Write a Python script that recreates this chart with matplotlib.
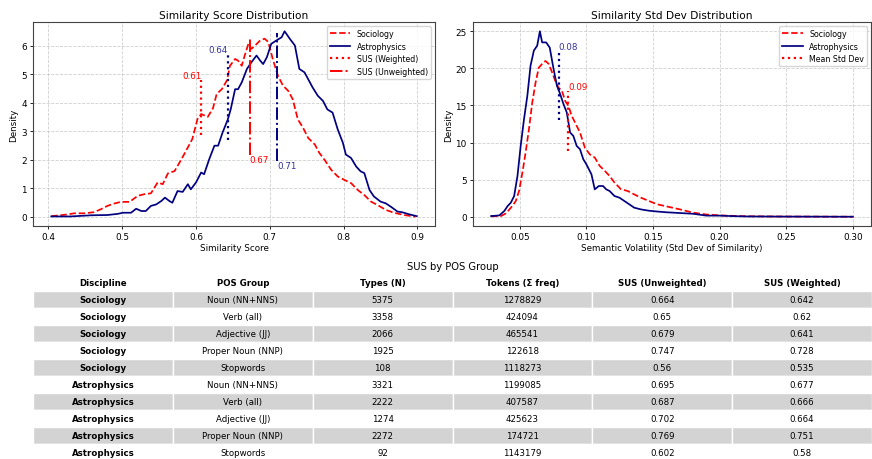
import matplotlib
matplotlib.use("Agg")
import matplotlib.pyplot as plt

# ---------------- data ----------------
soc_sim_x = [0.404, 0.426, 0.435, 0.449, 0.462, 0.471, 0.480, 0.489, 0.498, 0.510, 0.521, 0.530, 0.539,
             0.548, 0.555, 0.562, 0.571, 0.580, 0.589, 0.595, 0.602, 0.607, 0.616, 0.623, 0.628, 0.635,
             0.642, 0.646, 0.653, 0.657, 0.662, 0.666, 0.671, 0.675, 0.680, 0.687, 0.693, 0.698, 0.704,
             0.711, 0.718, 0.725, 0.731, 0.738, 0.745, 0.752, 0.761, 0.767, 0.774, 0.783, 0.792, 0.801,
             0.810, 0.819, 0.828, 0.837, 0.846, 0.857, 0.868, 0.882, 0.897]
soc_sim_y = [0.02, 0.08, 0.12, 0.12, 0.16, 0.26, 0.38, 0.46, 0.52, 0.52, 0.73, 0.79, 0.82,
             1.20, 1.14, 1.52, 1.60, 2.00, 2.43, 2.72, 3.42, 3.60, 3.50, 3.80, 4.30, 4.47,
             4.78, 5.29, 5.53, 5.47, 5.29, 5.65, 6.06, 5.88, 6.00, 6.18, 6.24, 6.12, 5.53,
             4.94, 4.59, 4.41, 4.12, 3.41, 3.12, 2.76, 2.53, 2.24, 2.00, 1.65, 1.41, 1.29,
             1.18, 0.94, 0.76, 0.53, 0.41, 0.24, 0.14, 0.06, 0.00]

ast_sim_x = [0.404, 0.430, 0.458, 0.480, 0.494, 0.501, 0.512, 0.519, 0.526, 0.532, 0.539, 0.546, 0.553,
             0.558, 0.564, 0.568, 0.575, 0.582, 0.589, 0.593, 0.600, 0.607, 0.611, 0.618, 0.625, 0.630,
             0.636, 0.643, 0.647, 0.653, 0.657, 0.662, 0.669, 0.675, 0.682, 0.687, 0.691, 0.696, 0.702,
             0.709, 0.716, 0.720, 0.727, 0.734, 0.740, 0.747, 0.752, 0.758, 0.765, 0.772, 0.778, 0.785,
             0.792, 0.799, 0.803, 0.810, 0.817, 0.823, 0.828, 0.835, 0.841, 0.850, 0.857, 0.864, 0.873,
             0.879, 0.888, 0.899]
ast_sim_y = [0.01, 0.01, 0.05, 0.06, 0.10, 0.14, 0.14, 0.28, 0.20, 0.20, 0.38, 0.43, 0.55,
             0.67, 0.55, 0.49, 0.90, 0.87, 1.14, 0.96, 1.20, 1.55, 1.49, 2.02, 2.49, 2.49,
             2.95, 3.40, 3.76, 4.47, 4.47, 4.71, 5.18, 5.41, 5.65, 5.47, 5.35, 5.59, 6.06,
             6.18, 6.29, 6.50, 6.24, 6.00, 5.18, 5.06, 4.82, 4.53, 4.24, 4.06, 3.76, 3.65,
             3.06, 2.59, 2.18, 2.06, 1.76, 1.59, 1.53, 0.94, 0.71, 0.53, 0.47, 0.35, 0.18,
             0.16, 0.09, 0.02]

soc_std_x = [0.0285, 0.0359, 0.0396, 0.0433, 0.047, 0.0495, 0.052, 0.0544, 0.0569, 0.0594, 0.0619,
             0.0643, 0.0668, 0.0693, 0.0717, 0.0742, 0.0767, 0.0791, 0.0816, 0.0841, 0.0865, 0.089,
             0.0915, 0.0952, 0.0989, 0.1026, 0.1063, 0.110, 0.1137, 0.1174, 0.1211, 0.126, 0.131,
             0.136, 0.1409, 0.147, 0.1532, 0.160, 0.170, 0.180, 0.190, 0.200, 0.210, 0.220, 0.240,
             0.260, 0.280, 0.300]
soc_std_y = [0.05, 0.09, 0.45, 1.2, 2.1, 3.47, 5.95, 8.65, 11.8, 15.4, 18.1,
             20.1, 20.6, 21.0, 20.6, 19.5, 18.3, 17.4, 17.0, 15.6, 14.95, 13.6,
             12.7, 11.35, 9.3, 8.4, 7.97, 6.85, 6.2, 5.5, 4.6, 3.7, 3.47,
             3.0, 2.57, 2.12, 1.67, 1.4, 1.0, 0.55, 0.3, 0.18, 0.12, 0.06, 0.03,
             0.02, 0.01, 0.0]

ast_std_x = [0.0285, 0.0347, 0.0384, 0.0409, 0.0433, 0.0458, 0.0483, 0.0507, 0.0532, 0.0557, 0.0581,
             0.0606, 0.0631, 0.0651, 0.0668, 0.0698, 0.0725, 0.0754, 0.0779, 0.0804, 0.0828, 0.0853,
             0.0878, 0.0902, 0.0927, 0.0952, 0.0977, 0.100, 0.1038, 0.1063, 0.1093, 0.1125, 0.1149,
             0.1174, 0.1211, 0.1248, 0.1285, 0.1322, 0.1359, 0.1409, 0.147, 0.1532, 0.160, 0.170,
             0.180, 0.190, 0.200, 0.210, 0.220, 0.250, 0.300]
ast_std_y = [0.09, 0.18, 0.77, 1.44, 1.89, 2.79, 5.5, 9.55, 13.15, 16.3, 20.36,
             22.4, 23.06, 25.0, 23.5, 23.5, 22.8, 19.9, 17.66, 16.5, 15.2, 14.05,
             11.35, 10.9, 9.55, 9.1, 7.75, 7.07, 5.72, 3.69, 4.14, 4.14, 3.69,
             3.47, 2.79, 2.57, 2.12, 1.67, 1.22, 0.99, 0.81, 0.7, 0.6, 0.5,
             0.4, 0.15, 0.15, 0.08, 0.04, 0.02, 0.0]

# mean markers
soc_sus_weighted = 0.607
ast_sus_weighted = 0.643
soc_sus_unweighted = 0.673
ast_sus_unweighted = 0.710
soc_mean_std = 0.0865
ast_mean_std = 0.0791

col_labels = ["Discipline", "POS Group", "Types (N)", "Tokens (\u03a3 freq)", "SUS (Unweighted)", "SUS (Weighted)"]
disciplines = ["Sociology"] * 5 + ["Astrophysics"] * 5
pos_groups = ["Noun (NN+NNS)", "Verb (all)", "Adjective (JJ)", "Proper Noun (NNP)", "Stopwords"] * 2
types_n = [5375, 3358, 2066, 1925, 108, 3321, 2222, 1274, 2272, 92]
tokens = [1278829, 424094, 465541, 122618, 1118273, 1199085, 407587, 425623, 174721, 1143179]
sus_unw = [0.664, 0.65, 0.679, 0.747, 0.56, 0.695, 0.687, 0.702, 0.769, 0.602]
sus_w = [0.642, 0.62, 0.641, 0.728, 0.535, 0.677, 0.666, 0.664, 0.751, 0.58]

# ---------------- figure ----------------
W, H = 872, 460
fig = plt.figure(figsize=(W / 100, H / 100), dpi=100)

def fa(x0, x1, y0, y1):
    return [x0 / W, 1 - y1 / H, (x1 - x0) / W, (y1 - y0) / H]

RED = "red"
NAVY = "navy"
lw = 1.25
fs = 6.3

ax1 = fig.add_axes(fa(33, 435, 23, 227))
ax1.plot(soc_sim_x, soc_sim_y, color=RED, ls="--", lw=lw, label="Sociology")
ax1.plot(ast_sim_x, ast_sim_y, color=NAVY, ls="-", lw=lw, label="Astrophysics")
ax1.vlines(soc_sus_weighted, 2.85, 4.8, colors=RED, linestyles=":", lw=1.6, label="SUS (Weighted)")
ax1.vlines(ast_sus_weighted, 2.7, 5.7, colors=NAVY, linestyles=":", lw=1.6)
ax1.vlines(soc_sus_unweighted, 2.15, 6.28, colors=RED, linestyles="-.", lw=1.4, label="SUS (Unweighted)")
ax1.vlines(ast_sus_unweighted, 1.95, 6.45, colors=NAVY, linestyles="-.", lw=1.4)
ax1.text(soc_sus_weighted, 4.8, f"{soc_sus_weighted:.2f}", color=RED, ha="right", va="bottom", fontsize=fs)
ax1.text(ast_sus_weighted, 5.7, f"{ast_sus_weighted:.2f}", color=NAVY, ha="right", va="bottom", fontsize=fs, alpha=0.8)
ax1.text(soc_sus_unweighted, 2.15, f"{soc_sus_unweighted:.2f}", color=RED, ha="left", va="top", fontsize=fs)
ax1.text(ast_sus_unweighted, 1.95, f"{ast_sus_unweighted:.2f}", color=NAVY, ha="left", va="top", fontsize=fs, alpha=0.8)
ax1.set_title("Similarity Score Distribution", fontsize=7.6, pad=3)
ax1.set_xlabel("Similarity Score", fontsize=fs, labelpad=1.5)
ax1.set_ylabel("Density", fontsize=fs, labelpad=2)
ax1.legend(loc="upper right", fontsize=5.7, handlelength=2.6, borderpad=0.4, labelspacing=0.45)

ax2 = fig.add_axes(fa(473, 871, 23, 227))
ax2.plot(soc_std_x, soc_std_y, color=RED, ls="--", lw=lw, label="Sociology")
ax2.plot(ast_std_x, ast_std_y, color=NAVY, ls="-", lw=lw, label="Astrophysics")
ax2.vlines(soc_mean_std, 8.9, 17.0, colors=RED, linestyles=":", lw=1.6, label="Mean Std Dev")
ax2.vlines(ast_mean_std, 13.1, 22.4, colors=NAVY, linestyles=":", lw=1.6)
ax2.text(soc_mean_std, 17.0, f"{soc_mean_std:.2f}", color=RED, ha="left", va="bottom", fontsize=fs)
ax2.text(ast_mean_std, 22.4, f"{ast_mean_std:.2f}", color=NAVY, ha="left", va="bottom", fontsize=fs, alpha=0.8)
ax2.set_title("Similarity Std Dev Distribution", fontsize=7.6, pad=3)
ax2.set_xlabel("Semantic Volatility (Std Dev of Similarity)", fontsize=fs, labelpad=1.5)
ax2.set_ylabel("Density", fontsize=fs, labelpad=2)
ax2.legend(loc="upper right", fontsize=5.7, handlelength=2.6, borderpad=0.4, labelspacing=0.45)

for ax in (ax1, ax2):
    ax.grid(True, ls="--", color="#b0b0b0", alpha=0.6, lw=0.6)
    ax.tick_params(labelsize=6.4, length=2.5, width=0.6, pad=2)
    for s in ax.spines.values():
        s.set_linewidth(0.8)
        s.set_color("#444444")

# ---------------- table ----------------
axt = fig.add_axes(fa(33, 872, 275, 462))
axt.axis("off")
rows = []
for i in range(len(disciplines)):
    rows.append([disciplines[i], pos_groups[i], str(types_n[i]), str(tokens[i]), str(sus_unw[i]), str(sus_w[i])])
tbl = axt.table(cellText=rows, colLabels=col_labels, cellLoc="center", bbox=[0, 0, 1, 1])
tbl.auto_set_font_size(False)
tbl.set_fontsize(6.2)
for (r, c), cell in tbl.get_celld().items():
    cell.set_edgecolor("white")
    cell.set_linewidth(1.0)
    if r == 0:
        cell.set_facecolor("white")
        cell.get_text().set_fontweight("bold")
    else:
        cell.set_facecolor("#d3d3d3" if r % 2 == 1 else "white")
        if c == 0:
            cell.get_text().set_fontweight("bold")
fig.text((33 + 872) / 2 / W, 1 - 267 / H, "SUS by POS Group", ha="center", va="center", fontsize=7.2)

fig.savefig("out.png", dpi=100)
